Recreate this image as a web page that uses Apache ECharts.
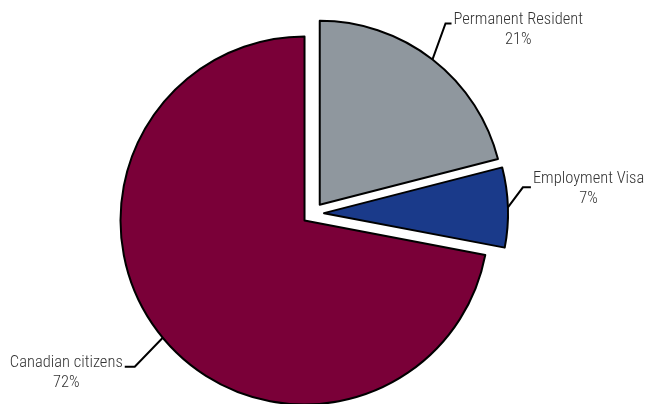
<!DOCTYPE html>
<html>
<head>
<meta charset="utf-8">
<script src="https://cdn.jsdelivr.net/npm/echarts@6/dist/echarts.min.js"></script>
<style>
html,body{margin:0;padding:0;background:#fff;}
#c{width:647px;height:404px;}
</style>
</head>
<body>
<div id="c"></div>
<script>
const categories = ['Permanent Resident', 'Employment Visa', 'Canadian citizens'];
const values = [21, 7, 72];
const colors = ['#8f979e', '#1a3a8a', '#7a0038'];
// leader line styling per label: first segment vector, horizontal segment length, text vertical shift
const leaders = [
  {dx: 13, dy: -36, h: 6, ty: 6},
  {dx: 15, dy: -20, h: 8, ty: 2},
  {dx: -28, dy: 29, h: -10, ty: 6}
];

const chart = echarts.init(document.getElementById('c'), null, {renderer: 'canvas'});
const FONT = '"Roboto Condensed", "DejaVu Sans Condensed", sans-serif';
const TXT = {align: 'center', fontFamily: FONT, fontSize: 16.5, fontWeight: 300, lineHeight: 20, color: '#333333'};

chart.setOption({
  animation: false,
  series: [{
    type: 'pie',
    center: [313, 213.5],
    radius: 184,
    startAngle: 90,
    clockwise: true,
    selectedMode: 'multiple',
    selectedOffset: 11,
    avoidLabelOverlap: false,
    itemStyle: {borderColor: '#000', borderWidth: 2},
    select: {itemStyle: {borderColor: '#000', borderWidth: 2}},
    emphasis: {disabled: true},
    label: {
      show: true,
      position: 'outside',
      overflow: 'none',
      formatter: '{a|{b}}\n{a|{d}%}',
      color: '#333333',
      fontFamily: FONT,
      fontSize: 16.5,
      fontWeight: 300,
      rich: {a: TXT}
    },
    labelLine: {show: true, length: 20, length2: 8, lineStyle: {color: '#000', width: 2}},
    labelLayout: function (p) {
      const L = leaders[p.dataIndex];
      const s = p.labelLinePoints[0];
      const b = [s[0] + L.dx, s[1] + L.dy];
      const e = [b[0] + L.h, b[1]];
      const r = p.labelRect;
      const wantX = L.h > 0 ? e[0] + 2 : e[0] - 2 - r.width;
      const wantCY = e[1] + L.ty;
      return {
        dx: wantX - r.x,
        dy: wantCY - (r.y + r.height / 2),
        labelLinePoints: [s, b, e]
      };
    },
    data: categories.map((n, i) => ({name: n, value: values[i], selected: true, itemStyle: {color: colors[i]}}))
  }]
});
</script>
</body>
</html>
